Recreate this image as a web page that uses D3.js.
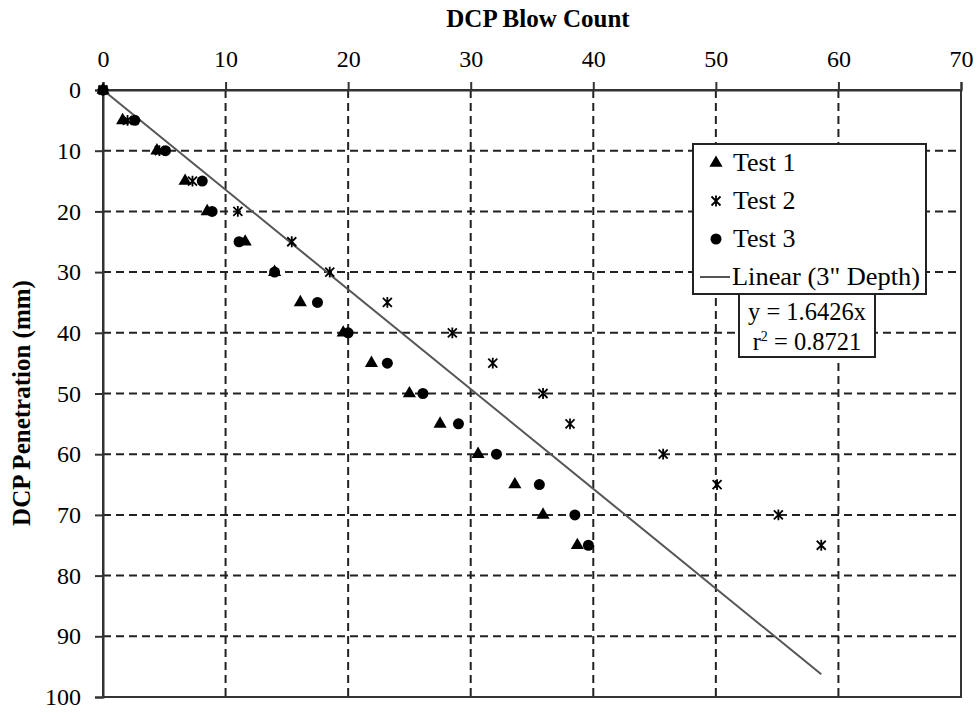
<!DOCTYPE html>
<html>
<head>
<meta charset="utf-8">
<script src="https://cdn.jsdelivr.net/npm/d3@7/dist/d3.min.js"></script>
<style>
  html, body { margin: 0; padding: 0; background: #fff; }
  svg { display: block; font-family: "Liberation Serif", "Times New Roman", serif; }
</style>
</head>
<body>
<svg id="chart" width="980" height="713"></svg>
<script>
// Penetration depth readings (mm), shared by all three tests
const depths = [0, 5, 10, 15, 20, 25, 30, 35, 40, 45, 50, 55, 60, 65, 70, 75];
// Cumulative DCP blow counts at each depth
const test1 = [0, 1.6, 4.4, 6.7, 8.5, 11.6, 14.0, 16.1, 19.6, 21.9, 25.0, 27.5, 30.6, 33.6, 35.9, 38.7];
const test2 = [0, 2.0, 4.6, 7.3, 11.0, 15.4, 18.5, 23.2, 28.5, 31.8, 35.9, 38.1, 45.7, 50.1, 55.1, 58.6];
const test3 = [0, 2.6, 5.1, 8.1, 8.9, 11.1, 14.0, 17.5, 20.0, 23.2, 26.1, 29.0, 32.1, 35.6, 38.5, 39.6];
// Linear fit through the origin: penetration = slope * blows
const slope = 1.6426;
const rSquared = 0.8721;
const xTicks = [0, 10, 20, 30, 40, 50, 60, 70];
const yTicks = [0, 10, 20, 30, 40, 50, 60, 70, 80, 90, 100];
const seriesNames = ["Test 1", "Test 2", "Test 3"];
const trendName = "Linear (3\" Depth)";

const svg = d3.select("#chart");
const m = { left: 103, top: 90, right: 961, bottom: 697 };

const x = d3.scaleLinear().domain([0, 70]).range([m.left, m.right]);
const y = d3.scaleLinear().domain([0, 100]).range([m.top, m.bottom]);

// dashed grid
const grid = svg.append("g");
grid.selectAll(".gx").data(xTicks.slice(1, -1)).join("line")
  .attr("x1", d => x(d)).attr("x2", d => x(d))
  .attr("y1", m.top).attr("y2", m.bottom)
  .attr("stroke", "#222").attr("stroke-width", 2).attr("stroke-dasharray", "8,5");
grid.selectAll(".gy").data(yTicks.slice(1, -1)).join("line")
  .attr("y1", d => y(d)).attr("y2", d => y(d))
  .attr("x1", m.left).attr("x2", m.right)
  .attr("stroke", "#222").attr("stroke-width", 2).attr("stroke-dasharray", "8,5");

// plot frame
svg.append("rect")
  .attr("x", m.left).attr("y", m.top)
  .attr("width", m.right - m.left).attr("height", m.bottom - m.top)
  .attr("fill", "none").attr("stroke", "#333").attr("stroke-width", 2);

// axes
const xAxis = svg.append("g").attr("transform", `translate(0,${m.top})`)
  .call(d3.axisTop(x).tickValues(xTicks).tickSize(8).tickPadding(15).tickFormat(d3.format("d")));
const yAxis = svg.append("g").attr("transform", `translate(${m.left},0)`)
  .call(d3.axisLeft(y).tickValues(yTicks).tickSize(8).tickPadding(14).tickFormat(d3.format("d")));
[xAxis, yAxis].forEach(a => {
  a.attr("font-family", null);
  a.select(".domain").attr("stroke", "#333").attr("stroke-width", 2);
  a.selectAll(".tick line").attr("stroke", "#333").attr("stroke-width", 2);
  a.selectAll(".tick text").attr("fill", "#000")
    .style("font-family", "Liberation Serif").style("font-size", "24px");
});

// axis titles
svg.append("text").attr("x", 538).attr("y", 27)
  .attr("text-anchor", "middle").attr("font-weight", "bold").attr("font-size", 25)
  .text("DCP Blow Count");
svg.append("text").attr("transform", "translate(30,403) rotate(-90)")
  .attr("text-anchor", "middle").attr("font-weight", "bold").attr("font-size", 25)
  .text("DCP Penetration (mm)");

// trendline from 0 to the largest blow count
const xMax = d3.max([...test1, ...test2, ...test3]);
svg.append("line")
  .attr("x1", x(0)).attr("y1", y(0))
  .attr("x2", x(xMax)).attr("y2", y(slope * xMax))
  .attr("stroke", "#555").attr("stroke-width", 2);

// marker shapes
const triPath = d3.symbol().type(d3.symbolTriangle).size(75)();
function drawStar(g, s) {
  g.append("path")
    .attr("d", `M${-s},${-s}L${s},${s}M${-s},${s}L${s},${-s}M0,${-s * 1.2}L0,${s * 1.2}`)
    .attr("stroke", "#000").attr("stroke-width", 1.8).attr("fill", "none");
}
function marker(g, kind) {
  if (kind === 0) g.append("path").attr("d", triPath).attr("fill", "#000");
  else if (kind === 1) drawStar(g, 4.5);
  else g.append("circle").attr("r", 5.5).attr("fill", "#000");
}

const allSeries = [test1, test2, test3];
allSeries.forEach((vals, k) => {
  const gs = svg.append("g");
  vals.forEach((v, i) => {
    const g = gs.append("g").attr("transform", `translate(${x(v)},${y(depths[i])})`);
    marker(g, k);
  });
});

// legend
const lg = svg.append("g");
lg.append("rect").attr("x", 693).attr("y", 144).attr("width", 233).attr("height", 150)
  .attr("fill", "#fff").attr("stroke", "#222").attr("stroke-width", 2);
seriesNames.forEach((n, k) => {
  const cy = 163 + k * 38;
  const g = lg.append("g").attr("transform", `translate(716,${cy})`);
  marker(g, k);
  lg.append("text").attr("x", 733).attr("y", cy + 8).attr("font-size", 26).text(n);
});
lg.append("line").attr("x1", 700).attr("x2", 730).attr("y1", 277).attr("y2", 277)
  .attr("stroke", "#555").attr("stroke-width", 2);
lg.append("text").attr("x", 732).attr("y", 285).attr("font-size", 26)
  .attr("textLength", 188).attr("lengthAdjust", "spacingAndGlyphs").text(trendName);

// equation box
const eq = svg.append("g");
eq.append("rect").attr("x", 739).attr("y", 294).attr("width", 136).attr("height", 63)
  .attr("fill", "#fff").attr("stroke", "#222").attr("stroke-width", 2);
eq.append("text").attr("x", 807).attr("y", 320).attr("text-anchor", "middle").attr("font-size", 24.5)
  .text(`y = ${slope}x`);
const t2 = eq.append("text").attr("x", 807).attr("y", 350).attr("text-anchor", "middle").attr("font-size", 24.5);
t2.append("tspan").text("r");
t2.append("tspan").attr("dy", -9).attr("font-size", 14).text("2");
t2.append("tspan").attr("dy", 9).text(` = ${rSquared}`);
</script>
</body>
</html>
